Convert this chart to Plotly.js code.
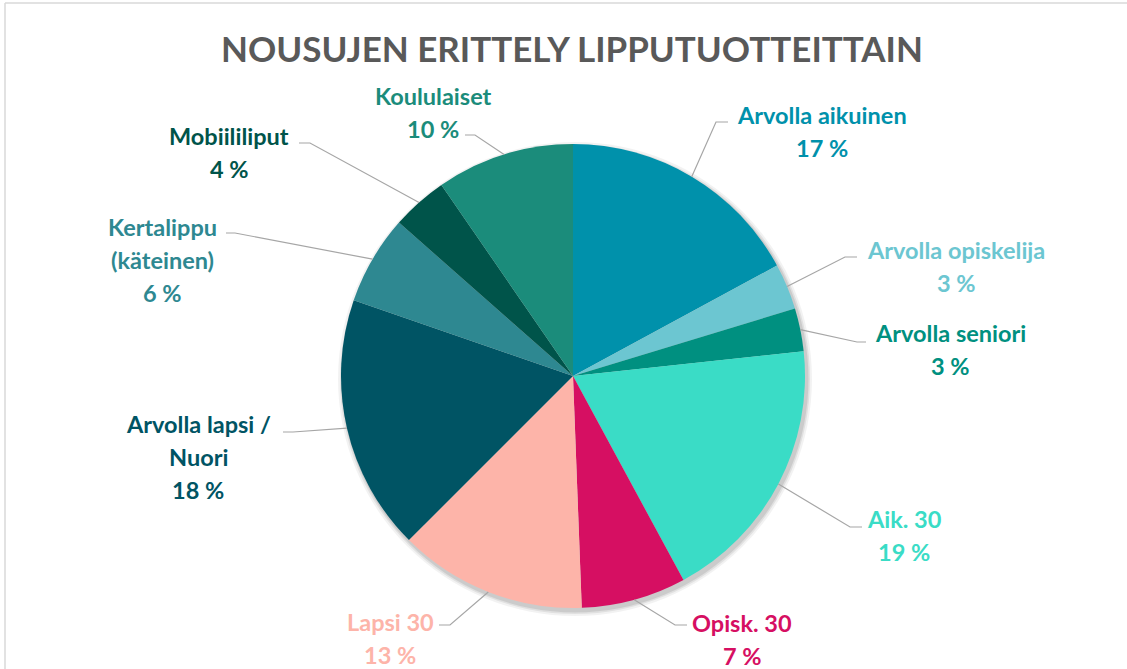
<!DOCTYPE html>
<html>
<head>
<meta charset="utf-8">
<script src="https://cdn.plot.ly/plotly-3.0.1.min.js"></script>
<style>html,body{margin:0;padding:0;background:#fff;}#chart{width:1127px;height:669px;}</style>
</head>
<body>
<div id="chart"></div>
<script>
// ---- data ----
const categories = ["Arvolla aikuinen", "Arvolla opiskelija", "Arvolla seniori", "Aik. 30", "Opisk. 30", "Lapsi 30", "Arvolla lapsi / Nuori", "Kertalippu (käteinen)", "Mobiililiput", "Koululaiset"];
const labelLines = [["Arvolla aikuinen"], ["Arvolla opiskelija"], ["Arvolla seniori"], ["Aik. 30"], ["Opisk. 30"], ["Lapsi 30"], ["Arvolla lapsi /", "Nuori"], ["Kertalippu", "(käteinen)"], ["Mobiililiput"], ["Koululaiset"]];
const shares = [17.1, 3.2, 3.0, 18.8, 7.3, 13.1, 17.8, 6.2, 3.9, 9.6];
const chartTitle = "NOUSUJEN ERITTELY LIPPUTUOTTEITTAIN";

// ---- styles / layout ----
const colors = ["#0091AB", "#6CC6D1", "#009080", "#3ADCC6", "#D60F62", "#FDB4A9", "#005464", "#2E8891", "#00544A", "#1B8C7B"];
const textColors = ["#0091AB", "#6CC6D1", "#009080", "#3ADCC6", "#D60F62", "#FDB4A9", "#005464", "#2E8891", "#00544A", "#1B8C7B"];
const W = 1127, H = 669;
const cx = 573, cy = 376, R = 232;
const labelAnchor = [[822,115],[956,250],[950,333],[904,519],[742,623],[390,622],[198,424],[162,227],[229,136],[433,96]];
const elbows = [[716,122],[845,257],[857,342],[850,527],[675,625],[450,625],[293,432],[235,233],[310,143],[475,135]];
const ends = [[728,122],[857,257],[866,342],[862,527],[687,625],[439,625],[283,432],[226,233],[299,143],[465,135]];
const lineGap = 33;
const FONT = "Lato, 'Open Sans', sans-serif";

const px = x => x / W;
const py = y => 1 - y / H;

const total = shares.reduce((a, b) => a + b, 0);
let cum = 0;
const shapes = [];
const annotations = [];

// frame lines
shapes.push({type:"line", xref:"paper", yref:"paper", x0:px(5), x1:px(5), y0:py(3), y1:py(H), line:{color:"#D9D9D9", width:1.5}});
shapes.push({type:"line", xref:"paper", yref:"paper", x0:px(5), x1:px(W), y0:py(3), y1:py(3), line:{color:"#D9D9D9", width:1.5}});

// soft shadow
[[5,0.05],[3,0.07],[1.5,0.09]].forEach(([g, o]) => {
  shapes.push({type:"circle", layer:"below", xref:"paper", yref:"paper",
    x0:px(cx - R - g + 2), x1:px(cx + R + g + 2), y0:py(cy + R + g + 3), y1:py(cy - R - g + 3),
    fillcolor:"rgba(0,0,0," + o + ")", line:{width:0}});
});

shares.forEach((v, i) => {
  const mid = (cum + v / 2) / total * 2 * Math.PI;
  cum += v;
  const ex = cx + R * Math.sin(mid), ey = cy - R * Math.cos(mid);
  const [bx, by] = elbows[i], [tx, ty] = ends[i];
  shapes.push({type:"path", xref:"paper", yref:"paper",
    path:`M ${px(ex)} ${py(ey)} L ${px(bx)} ${py(by)} L ${px(tx)} ${py(ty)}`,
    line:{color:"#A6A6A6", width:1.2}});
  const lines = labelLines[i].concat([Math.round(v) + " %"]);
  lines.forEach((t, k) => {
    annotations.push({xref:"paper", yref:"paper", x:px(labelAnchor[i][0]), y:py(labelAnchor[i][1] + k * lineGap),
      xanchor:"center", yanchor:"middle", showarrow:false, text:"<b>" + t + "</b>",
      font:{family:FONT, size:23.5, color:textColors[i]}});
  });
});

const trace = {
  type:"pie", labels:categories, values:shares, sort:false, direction:"clockwise", rotation:0,
  marker:{colors:colors, line:{width:0}}, textinfo:"none", hoverinfo:"label+percent",
  domain:{x:[px(cx - R), px(cx + R)], y:[py(cy + R), py(cy - R)]}
};

const layout = {
  width:W, height:H, margin:{l:0, r:0, t:0, b:0}, showlegend:false,
  paper_bgcolor:"#ffffff",
  title:{text:"<b>" + chartTitle + "</b>", x:px(572), xanchor:"center", y:py(50), yanchor:"middle",
    font:{family:FONT, size:35, color:"#595959"}},
  shapes:shapes, annotations:annotations
};

Plotly.newPlot("chart", [trace], layout, {displayModeBar:false, staticPlot:true});
</script>
</body>
</html>
